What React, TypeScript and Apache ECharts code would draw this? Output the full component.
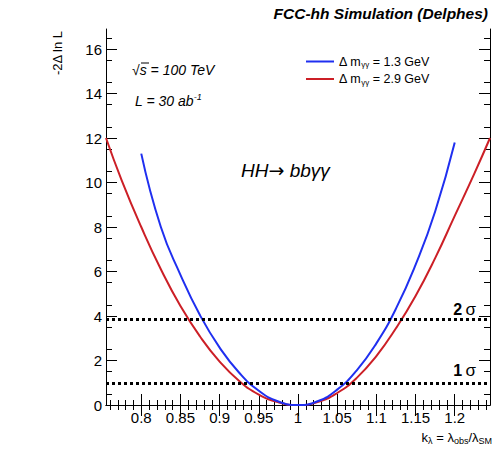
import React, { useEffect, useRef } from "react";
import * as echarts from "echarts";

// ---- data ----
const blueX = [0.8, 0.825, 0.85, 0.875, 0.9, 0.925, 0.95, 0.975, 1.0, 1.025, 1.05, 1.075, 1.1, 1.125, 1.15, 1.175, 1.2];
const blueY = [11.3, 8.0, 5.85, 4.03, 2.58, 1.45, 0.64, 0.16, 0.0, 0.17, 0.69, 1.56, 2.77, 4.33, 6.3, 8.7, 11.8];
const redX = [0.755, 0.775, 0.8, 0.825, 0.85, 0.875, 0.9, 0.925, 0.95, 0.975, 1.0, 1.025, 1.05, 1.075, 1.1, 1.125, 1.15, 1.175, 1.2, 1.225, 1.245];
const redY = [12.0, 10.1, 8.0, 6.1, 4.45, 3.08, 1.95, 1.08, 0.47, 0.12, 0.0, 0.13, 0.54, 1.22, 2.2, 3.45, 4.9, 6.6, 8.5, 10.4, 12.0];
const seriesNames = ["Δ m_γγ = 1.3 GeV", "Δ m_γγ = 2.9 GeV"];
const xMajorTicks = [0.8, 0.85, 0.9, 0.95, 1.0, 1.05, 1.1, 1.15, 1.2];
const yMajorTicks = [0, 2, 4, 6, 8, 10, 12, 14, 16];
const sigmaLevels = [3.84, 1];
const sigmaLabels = ["2", "1"];
const xRange = [0.755, 1.245];
const yRange = [0, 16.9];

const FONT = "'Liberation Sans', Arial, Helvetica, sans-serif";

const xMinorTicks: number[] = [];
for (let i = 76; i <= 124; i++) {
  if (i % 5 !== 0) xMinorTicks.push(i / 100);
}
const yMinorTicks: number[] = [];
for (let i = 1; i <= 33; i += 2) yMinorTicks.push(i / 2);

export default function App() {
  const ref = useRef<HTMLDivElement>(null);
  useEffect(() => {
    if (!ref.current) return;
    const chart = echarts.init(ref.current, undefined, { renderer: "svg" });
    const axisLine = { show: true, lineStyle: { color: "#000", width: 1 } };
    const xBase = (pos: string, ticks: number[], len: number, labels: boolean, line: boolean) => ({
      type: "value",
      position: pos,
      min: xRange[0],
      max: xRange[1],
      axisLine: line ? axisLine : { show: false },
      splitLine: { show: false },
      axisTick: { show: true, inside: true, length: len, customValues: ticks, lineStyle: { color: "#000", width: 1 } },
      axisLabel: labels
        ? {
            show: true,
            customValues: ticks,
            color: "#000",
            fontSize: 15,
            fontFamily: FONT,
            margin: 5,
            formatter: (v: number) => String(parseFloat(v.toFixed(2))),
          }
        : { show: false },
    });
    const yBase = (pos: string, ticks: number[], len: number, labels: boolean, line: boolean) => ({
      type: "value",
      position: pos,
      min: yRange[0],
      max: yRange[1],
      axisLine: line ? axisLine : { show: false },
      splitLine: { show: false },
      axisTick: { show: true, inside: true, length: len, customValues: ticks, lineStyle: { color: "#000", width: 1 } },
      axisLabel: labels
        ? { show: true, customValues: ticks, color: "#000", fontSize: 15, fontFamily: FONT, margin: 4 }
        : { show: false },
    });

    const legendRich: Record<string, string> = {
      [seriesNames[0]]: "{a|Δ m}{s|γγ}{a| = 1.3 GeV}",
      [seriesNames[1]]: "{a|Δ m}{s|γγ}{a| = 2.9 GeV}",
    };

    chart.setOption({
      animation: false,
      backgroundColor: "#fff",
      grid: { left: 106, right: 3, top: 29, bottom: 47, containLabel: false, outerBoundsMode: "none" },
      xAxis: [
        xBase("bottom", xMajorTicks, 11, true, true),
        xBase("bottom", xMinorTicks, 5, false, false),
        xBase("top", xMajorTicks, 11, false, true),
        xBase("top", xMinorTicks, 5, false, false),
      ],
      yAxis: [
        yBase("left", yMajorTicks, 11, true, true),
        yBase("left", yMinorTicks, 6, false, false),
        yBase("right", yMajorTicks, 11, false, true),
        yBase("right", yMinorTicks, 6, false, false),
      ],
      legend: {
        left: 306,
        top: 55,
        padding: 0,
        orient: "vertical",
        icon: "rect",
        itemWidth: 28,
        itemHeight: 2,
        itemGap: 4,
        data: seriesNames,
        formatter: (name: string) => legendRich[name],
        textStyle: {
          color: "#000",
          fontFamily: FONT,
          fontSize: 12.5,
          rich: {
            a: { fontSize: 12.5, fontFamily: FONT, color: "#000" },
            s: { fontSize: 8, fontFamily: FONT, color: "#000", padding: [6, 0, 0, 0] },
          },
        },
      },
      series: [
        {
          name: seriesNames[0],
          type: "line",
          smooth: true,
          showSymbol: false,
          symbol: "none",
          xAxisIndex: 0,
          yAxisIndex: 0,
          lineStyle: { color: "#1f2ff0", width: 2 },
          itemStyle: { color: "#1f2ff0" },
          data: blueX.map((x, i) => [x, blueY[i]]),
          z: 3,
          markLine: {
            silent: true,
            symbol: "none",
            label: { show: false },
            lineStyle: { color: "#000", type: [3, 3], width: 3 },
            data: sigmaLevels.map((v) => ({ yAxis: v })),
          },
        },
        {
          name: seriesNames[1],
          type: "line",
          smooth: true,
          showSymbol: false,
          symbol: "none",
          xAxisIndex: 0,
          yAxisIndex: 0,
          lineStyle: { color: "#cc1f26", width: 2 },
          itemStyle: { color: "#cc1f26" },
          data: redX.map((x, i) => [x, redY[i]]),
          z: 2,
        },
      ],
      graphic: [
        {
          type: "text",
          x: 488,
          y: 13,
          style: {
            text: "FCC-hh Simulation (Delphes)",
            align: "right",
            verticalAlign: "middle",
            font: `italic bold 15.5px ${FONT}`,
            fill: "#000",
          },
        },
        {
          type: "text",
          x: 57,
          y: 31,
          rotation: Math.PI / 2,
          style: {
            text: "-2Δ ln L",
            align: "right",
            verticalAlign: "middle",
            font: `13px ${FONT}`,
            fill: "#000",
          },
        },
        {
          type: "text",
          x: 132,
          y: 70,
          style: {
            text: "√s = 100 TeV",
            align: "left",
            verticalAlign: "middle",
            font: `italic 14px ${FONT}`,
            fill: "#000",
          },
        },
        {
          type: "line",
          shape: { x1: 141, y1: 63, x2: 149, y2: 63 },
          style: { stroke: "#000", lineWidth: 1 },
        },
        {
          type: "text",
          x: 135,
          y: 101,
          style: {
            text: "{a|L = 30 ab}{b|-1}",
            align: "left",
            verticalAlign: "middle",
            rich: {
              a: { font: `italic 14px ${FONT}`, fill: "#000" },
              b: { font: `italic 9px ${FONT}`, fill: "#000", padding: [0, 0, 8, 0] },
            },
          },
        },
        {
          type: "text",
          x: 241,
          y: 170,
          style: {
            text: "{h|HH}{r|→}{h| bbγγ}",
            align: "left",
            verticalAlign: "middle",
            rich: {
              h: { font: `italic 19px ${FONT}`, fill: "#000" },
              r: { font: `19px 'DejaVu Sans', sans-serif`, fill: "#000" },
            },
          },
        },
        ...sigmaLevels.map((v, i) => ({
          type: "text",
          x: 476,
          y: i === 0 ? 309 : 370,
          style: {
            text: `{n|${sigmaLabels[i]}} {g|σ}`,
            align: "right",
            verticalAlign: "middle",
            rich: {
              n: { font: `bold 16px ${FONT}`, fill: "#000" },
              g: { font: `17px ${FONT}`, fill: "#000" },
            },
          },
        })),
        {
          type: "text",
          x: 492,
          y: 437,
          style: {
            text: "{a|k}{s|λ}{a| = λ}{s|obs}{a|/λ}{s|SM}",
            align: "right",
            verticalAlign: "middle",
            rich: {
              a: { font: `13px ${FONT}`, fill: "#000" },
              s: { font: `9px ${FONT}`, fill: "#000", padding: [7, 0, 0, 0] },
            },
          },
        },
      ],
    });
    return () => chart.dispose();
  }, []);
  return <div ref={ref} style={{ width: 493, height: 452, position: "absolute", left: 0, top: 0 }} />;
}
